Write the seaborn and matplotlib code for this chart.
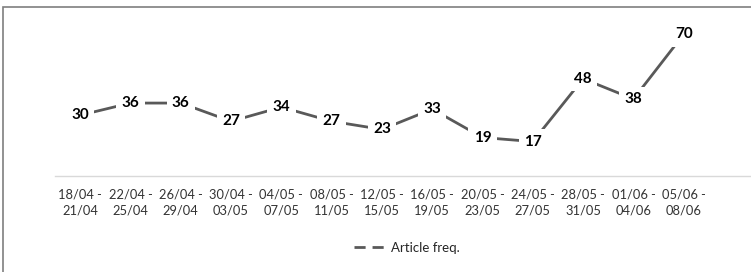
import matplotlib
matplotlib.use("Agg")
import matplotlib.pyplot as plt
import seaborn as sns
import pandas as pd
from matplotlib.lines import Line2D
from matplotlib.patches import Rectangle

periods = ["18/04 -\n21/04", "22/04 -\n25/04", "26/04 -\n29/04", "30/04 -\n03/05",
           "04/05 -\n07/05", "08/05 -\n11/05", "12/05 -\n15/05", "16/05 -\n19/05",
           "20/05 -\n23/05", "24/05 -\n27/05", "28/05 -\n31/05", "01/06 -\n04/06",
           "05/06 -\n08/06"]
article_freq = [30, 36, 36, 27, 34, 27, 23, 33, 19, 17, 48, 38, 70]
series_name = "Article freq."

df = pd.DataFrame({"x": list(range(len(periods))), "y": article_freq})

sns.set_theme(style="white")
plt.rcParams["font.family"] = ["Lato", "DejaVu Sans"]

W, H = 751, 272
fig = plt.figure(figsize=(W / 100, H / 100), dpi=100)
ax = fig.add_axes([55 / W, 1 - 176 / H, (W - 55) / W, (176 - 20) / H])

line_col = "#595959"
sns.lineplot(data=df, x="x", y="y", ax=ax, color=line_col, linewidth=2.0, zorder=2)

step = 50.3
ax.set_xlim(-0.5, -0.5 + (W - 55) / step)
ax.set_ylim(0, 77)

for xi, v in zip(df["x"], df["y"]):
    ax.text(xi, v, str(v), ha="center", va="center", fontsize=11, fontweight="bold",
            color="black", zorder=3,
            bbox=dict(boxstyle="square,pad=0.35", fc="white", ec="none"))

ax.set_xticks(range(len(periods)))
ax.set_xticklabels(periods, fontsize=9.3, color="#333333", linespacing=1.4)
ax.tick_params(axis="x", length=0, pad=9)
ax.set_yticks([])
ax.set_xlabel("")
ax.set_ylabel("")
for s in ["top", "right", "left"]:
    ax.spines[s].set_visible(False)
ax.spines["bottom"].set_color("#d9d9d9")
ax.spines["bottom"].set_linewidth(1.0)

handle = Line2D([0], [0], color=line_col, linewidth=2.0, linestyle=(0, (4, 2.5)))
fig.legend([handle], [series_name], loc="center", bbox_to_anchor=(407 / W, 1 - 248 / H),
           frameon=False, fontsize=9.5, handlelength=2.6, handletextpad=0.15)

fig.patches.append(Rectangle((3 / W, -0.1), 1.1, 0.1 + (1 - 7 / H), transform=fig.transFigure,
                             fill=False, edgecolor="#7f7f7f", linewidth=1.2))

fig.savefig("out.png", dpi=100)
